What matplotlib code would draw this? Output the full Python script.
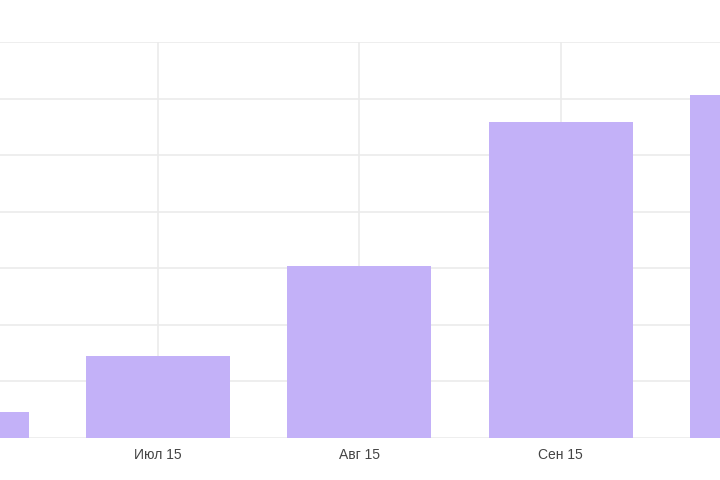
import matplotlib

matplotlib.use("Agg")
import matplotlib.pyplot as plt

# monthly values (units of one gridline step)
months = ["Июн 15", "Июл 15", "Авг 15", "Сен 15", "Окт 15"]
values = [0.46, 1.45, 3.04, 5.59, 6.07]

bar_color = "#c3b1f8"
grid_color = "#ebebeb"

plt.rcParams["font.family"] = ["Liberation Sans", "DejaVu Sans"]

fig = plt.figure(figsize=(7.2, 4.8), dpi=100)
# the chart is a crop: the axes run past both figure edges
ax = fig.add_axes([0.0, 0.0875, 1.0, 0.825])

positions = list(range(len(months)))
ax.bar(positions, values, width=0.715, color=bar_color, zorder=2)

ax.set_xticks(positions)
ax.set_xticklabels(months)
ax.set_yticks(range(0, 8))
ax.set_yticklabels([])
# limits after the ticks, otherwise set_xticks widens the view
ax.set_xlim(0.215, 3.792)
ax.set_ylim(0, 7)

ax.grid(True, color=grid_color, linewidth=1.2, zorder=0)
ax.set_axisbelow(True)
for side in ("top", "right", "left", "bottom"):
    ax.spines[side].set_visible(False)
ax.tick_params(axis="both", length=0)
ax.tick_params(axis="x", labelsize=10, labelcolor="#444444", pad=7.5)

fig.savefig("out.png", dpi=100)
